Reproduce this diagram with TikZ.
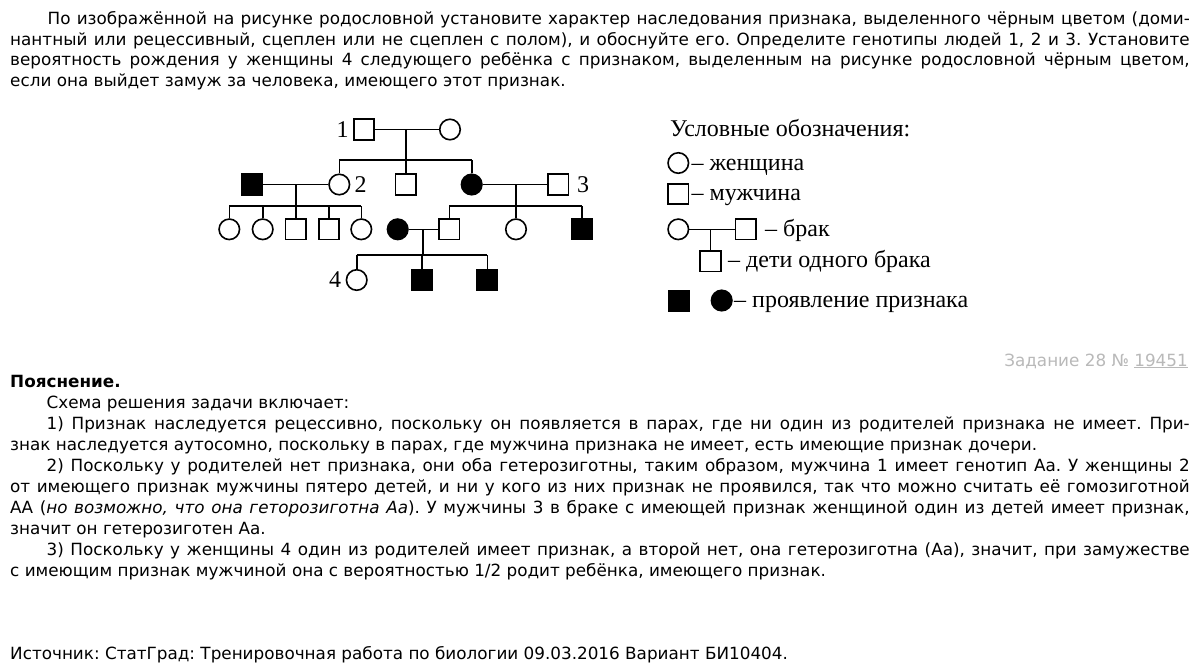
\documentclass[tikz,border=0pt]{standalone}
\usepackage{fontspec}
\setmainfont{DejaVu Sans}
\newfontfamily\serifleg{Liberation Serif}
\usetikzlibrary{calc}
\definecolor{grayref}{RGB}{185,185,185}
\frenchspacing
\tikzset{
  person/.style={draw, line width=1.6pt, inner sep=0pt, minimum size=20.5pt},
  male/.style={person, rectangle},
  female/.style={person, circle},
  aff/.style={fill=black},
  ln/.style={line width=1.6pt},
  txt/.style={anchor=base west, inner sep=0pt, font=\fontsize{16.8}{20}\selectfont},
  lbl/.style={inner sep=0pt, font=\serifleg\fontsize{24}{28}\selectfont},
  lg/.style={anchor=base west, inner sep=0pt, font=\serifleg\fontsize{24}{28}\selectfont},
}
\begin{document}
\begin{tikzpicture}[x=1pt,y=-1pt]
\useasboundingbox[fill=white] (0,0) rectangle (1200,670);
\frenchspacing

% ---------- task text ----------
\node[txt] (p1) at (47.5,24) {\makebox[1142pt][s]{По изображённой на рисунке родословной установите характер наследования признака, выделенного чёрным цветом (доми-}};
\node[txt] (p2) at (10,45) {\makebox[1179.5pt][s]{нантный или рецессивный, сцеплен или не сцеплен с полом), и обоснуйте его. Определите генотипы людей 1, 2 и 3. Установите}};
\node[txt] (p3) at (10,65.5) {\makebox[1179.5pt][s]{вероятность рождения у женщины 4 следующего ребёнка с признаком, выделенным на рисунке родословной чёрным цветом,}};
\node[txt] (p4) at (10,86) {если она выйдет замуж за человека, имеющего этот признак.};

% ---------- pedigree ----------
\node[male]  (I1) at (364,129.5) {};
\node[female](I2) at (450,129.5) {};
\node[male,aff]  (II1) at (252,184.5) {};
\node[female]    (II2) at (339.3,184.5) {};
\node[male]      (II3) at (405.7,184.5) {};
\node[female,aff](II4) at (471.7,184.5) {};
\node[male]      (II5) at (558.3,184.5) {};
\node[female] (III1) at (229.3,229.3) {};
\node[female] (III2) at (262.7,229.3) {};
\node[male]   (III3) at (295.7,229.3) {};
\node[male]   (III4) at (329,229.3) {};
\node[female] (III5) at (361.3,229.3) {};
\node[female,aff] (III6) at (397.7,229.3) {};
\node[male]       (III7) at (449.3,229.3) {};
\node[female]     (III8) at (516,229.3) {};
\node[male,aff]   (III9) at (581.7,229.3) {};
\node[female]   (IV1) at (356.7,280) {};
\node[male,aff] (IV2) at (421.7,280) {};
\node[male,aff] (IV3) at (487.3,280) {};

\node[lbl] (l1) at (342.5,129.5) {1};
\node[lbl] (l2) at (360.5,184.5) {2};
\node[lbl] (l3) at (583,184.5) {3};
\node[lbl] (l4) at (335,280) {4};

% marriages and sibships
\coordinate (m1) at (405.7,129.5);
\coordinate (s1) at (405.7,160);
\draw[ln] (I1) -- (I2);
\draw[ln] (m1) -- (s1);
\draw[ln] (II2.north |- s1) -- (II4.north |- s1);
\draw[ln] (II2.north |- s1) -- (II2.north);
\draw[ln] (s1) -- (II3.north);
\draw[ln] (II4.north |- s1) -- (II4.north);

\coordinate (m2) at (295.7,184.5);
\coordinate (s2) at (295.7,206);
\draw[ln] (II1) -- (II2);
\draw[ln] (m2) -- (s2);
\draw[ln] (III1.north |- s2) -- (III5.north |- s2);
\foreach \c in {III1,III2,III3,III4,III5} \draw[ln] (\c.north |- s2) -- (\c.north);

\coordinate (m3) at (516,184.5);
\coordinate (s3) at (516,206);
\draw[ln] (II4) -- (II5);
\draw[ln] (m3) -- (s3);
\draw[ln] (III7.north |- s3) -- (III9.north |- s3);
\foreach \c in {III7,III8,III9} \draw[ln] (\c.north |- s3) -- (\c.north);

\coordinate (m4) at (422.7,229.3);
\coordinate (s4) at (422.7,255);
\draw[ln] (III6) -- (III7);
\draw[ln] (m4) -- (s4);
\draw[ln] (IV1.north |- s4) -- (IV3.north |- s4);
\foreach \c in {IV1,IV2,IV3} \draw[ln] (\c.north |- s4) -- (\c.north);

% ---------- legend ----------
\node[lg] (lt) at (670,136.5) {Условные обозначения:};
\node[female] (LF) at (678.3,163) {};
\node[lg] (lft) at (691.5,170) {– женщина};
\node[male] (LM) at (678.3,194) {};
\node[lg] (lmt) at (691.5,200) {– мужчина};
\node[female] (LB1) at (678.3,229.3) {};
\node[male] (LB2) at (745.8,229.3) {};
\coordinate (lbm) at (710.5,229.3);
\node[male] (LC) at (710.5,261.3) {};
\draw[ln] (LB1) -- (LB2);
\draw[ln] (lbm) -- (LC.north);
\node[lg] (lbt) at (765,236.5) {– брак};
\node[lg] (lct) at (728,267) {– дети одного брака};
\node[male,aff] (LA1) at (679.3,301) {};
\node[female,aff] (LA2) at (721.7,300.5) {};
\node[lg] (lat) at (734,307) {– проявление признака};

% ---------- task number ----------
\node[anchor=base east, inner sep=0pt, text=grayref, font=\fontsize{16.8}{20}\selectfont] (zad) at (1188,366) {Задание 28 № \underline{19451}};

% ---------- explanation ----------
\node[txt, font=\bfseries\fontsize{16.8}{20}\selectfont] (e0) at (10,387) {Пояснение.};
\node[txt] (e1) at (46.5,408) {Схема решения задачи включает:};
\node[txt] (e2) at (46.5,429) {\makebox[1143pt][s]{1) Признак наследуется рецессивно, поскольку он появляется в парах, где ни один из родителей признака не имеет. При-}};
\node[txt] (e3) at (10,450) {знак наследуется аутосомно, поскольку в парах, где мужчина признака не имеет, есть имеющие признак дочери.};
\node[txt] (e4) at (46.5,471) {\makebox[1143pt][s]{2) Поскольку у родителей нет признака, они оба гетерозиготны, таким образом, мужчина 1 имеет генотип Аа. У женщины 2}};
\node[txt] (e5) at (10,492) {\makebox[1179.5pt][s]{от имеющего признак мужчины пятеро детей, и ни у кого из них признак не проявился, так что можно считать её гомозиготной}};
\node[txt] (e6) at (10,513) {\makebox[1179.5pt][s]{АА (\textit{но возможно, что она геторозиготна Аа}). У мужчины 3 в браке с имеющей признак женщиной один из детей имеет признак,}};
\node[txt] (e7) at (10,534) {значит он гетерозиготен Аа.};
\node[txt] (e8) at (46.5,555) {\makebox[1143pt][s]{3) Поскольку у женщины 4 один из родителей имеет признак, а второй нет, она гетерозиготна (Аа), значит, при замужестве}};
\node[txt] (e9) at (10,576) {с имеющим признак мужчиной она с вероятностью 1/2 родит ребёнка, имеющего признак.};

\node[txt] (src) at (10,659) {Источник: СтатГрад: Тренировочная работа по биологии 09.03.2016 Вариант БИ10404.};
\end{tikzpicture}
\end{document}
